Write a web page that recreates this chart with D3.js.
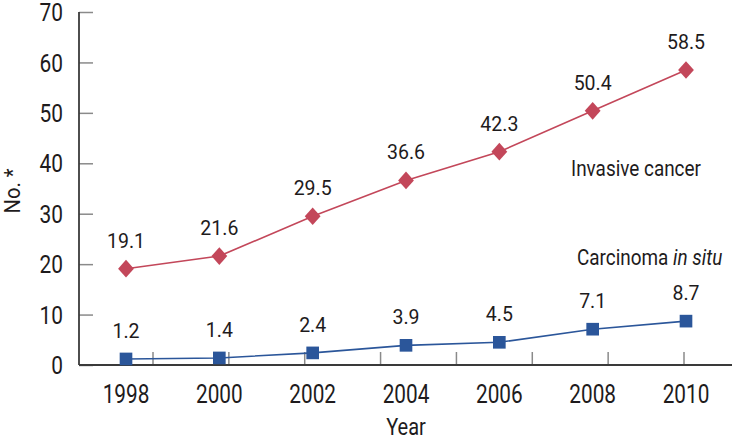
<!DOCTYPE html>
<html><head><meta charset="utf-8">
<script src="https://cdn.jsdelivr.net/npm/d3@7"></script>
<style>
body{margin:0;background:#fff;}
text{font-family:Roboto,"Liberation Sans",sans-serif;fill:#1e1b1c;}
</style></head>
<body><svg id="c" width="733" height="439"></svg>
<script>
const years = ["1998","2000","2002","2004","2006","2008","2010"];
const invasive = [19.1, 21.6, 29.5, 36.6, 42.3, 50.4, 58.5];
const cis = [1.2, 1.4, 2.4, 3.9, 4.5, 7.1, 8.7];
const yTicks = [0,10,20,30,40,50,60,70];

(function(){
const svg = d3.select("#c");
const pLeft = 79, pRight = 732, pTop = 12, pBottom = 365;
const x = d3.scalePoint().domain(years).range([126, 686]);
const y = d3.scaleLinear().domain([0,70]).range([pBottom, pTop]);
const axisColor = "#3a3a3a", tickColor = "#8a8a8a";

// y axis ticks (inward)
const ya = svg.append("g").attr("transform",`translate(${pLeft},0)`)
  .call(d3.axisRight(y).tickValues(yTicks).tickSize(14).tickFormat(""));
ya.select(".domain").remove();
ya.selectAll("line").attr("stroke",tickColor).attr("stroke-width",1.5);
svg.append("line").attr("x1",pLeft).attr("x2",pLeft).attr("y1",pTop).attr("y2",pBottom)
  .attr("stroke",axisColor).attr("stroke-width",1.8);
svg.append("g").selectAll("text").data(yTicks).join("text")
  .attr("transform",d=>`translate(63,${y(d)}) scale(0.82,1)`).attr("dy","0.36em").attr("text-anchor","end")
  .style("font-size","25.5px").text(d=>d);

// x axis line and tick marks (between categories)
const tickIdx = d3.range(8);
const xt = d3.scaleLinear().domain([0,7]).range([153, 684]);
svg.append("g").selectAll("line").data(tickIdx).join("line")
  .attr("x1",d=>xt(d)).attr("x2",d=>xt(d)).attr("y1",pBottom).attr("y2",pBottom-13)
  .attr("stroke",tickColor).attr("stroke-width",1.5);
svg.append("line").attr("x1",pLeft).attr("x2",pRight).attr("y1",pBottom).attr("y2",pBottom)
  .attr("stroke",axisColor).attr("stroke-width",1.8);
svg.append("g").selectAll("text").data(years).join("text")
  .attr("transform",d=>`translate(${x(d)},403) scale(0.8,1)`).attr("text-anchor","middle")
  .style("font-size","26px").text(d=>d);

// axis titles
svg.append("text").attr("transform","translate(406,435) scale(0.87,1)").attr("text-anchor","middle")
  .style("font-size","23px").text("Year");
svg.append("text").attr("transform","translate(20,191) rotate(-90) scale(0.92,1)").attr("text-anchor","middle")
  .style("font-size","22px").text("No. *");

const line = d3.line().x((d,i)=>x(years[i])).y(d=>y(d));
const red = "#c3475a", blue = "#2b569a";

// invasive
svg.append("path").datum(invasive).attr("d",line).attr("fill","none").attr("stroke",red).attr("stroke-width",1.6);
svg.append("g").selectAll("path").data(invasive).join("path")
  .attr("d",d3.symbol(d3.symbolSquare, 125)())
  .attr("transform",(d,i)=>`translate(${x(years[i])},${y(d)}) scale(1,1.12) rotate(45)`)
  .attr("fill",red);
svg.append("g").selectAll("text").data(invasive).join("text")
  .attr("transform",(d,i)=>`translate(${x(years[i])},${y(d)-21})`).attr("text-anchor","middle")
  .style("font-size","19.5px").text(d=>d.toFixed(1));

// cis
svg.append("path").datum(cis).attr("d",line).attr("fill","none").attr("stroke",blue).attr("stroke-width",1.6);
svg.append("g").selectAll("path").data(cis).join("path")
  .attr("transform",(d,i)=>`translate(${x(years[i])},${y(d)})`)
  .attr("d",d3.symbol(d3.symbolSquare, 160)())
  .attr("fill",blue);
svg.append("g").selectAll("text").data(cis).join("text")
  .attr("transform",(d,i)=>`translate(${x(years[i])},${y(d)-21})`).attr("text-anchor","middle")
  .style("font-size","19.5px").text(d=>d.toFixed(1));

// series labels
svg.append("text").attr("transform","translate(571,176) scale(0.86,1)").style("font-size","22px").text("Invasive cancer");
const t2 = svg.append("text").attr("transform","translate(577,265) scale(0.86,1)").style("font-size","22px");
t2.append("tspan").text("Carcinoma ");
t2.append("tspan").style("font-style","italic").text("in situ");
})();
</script></body></html>
